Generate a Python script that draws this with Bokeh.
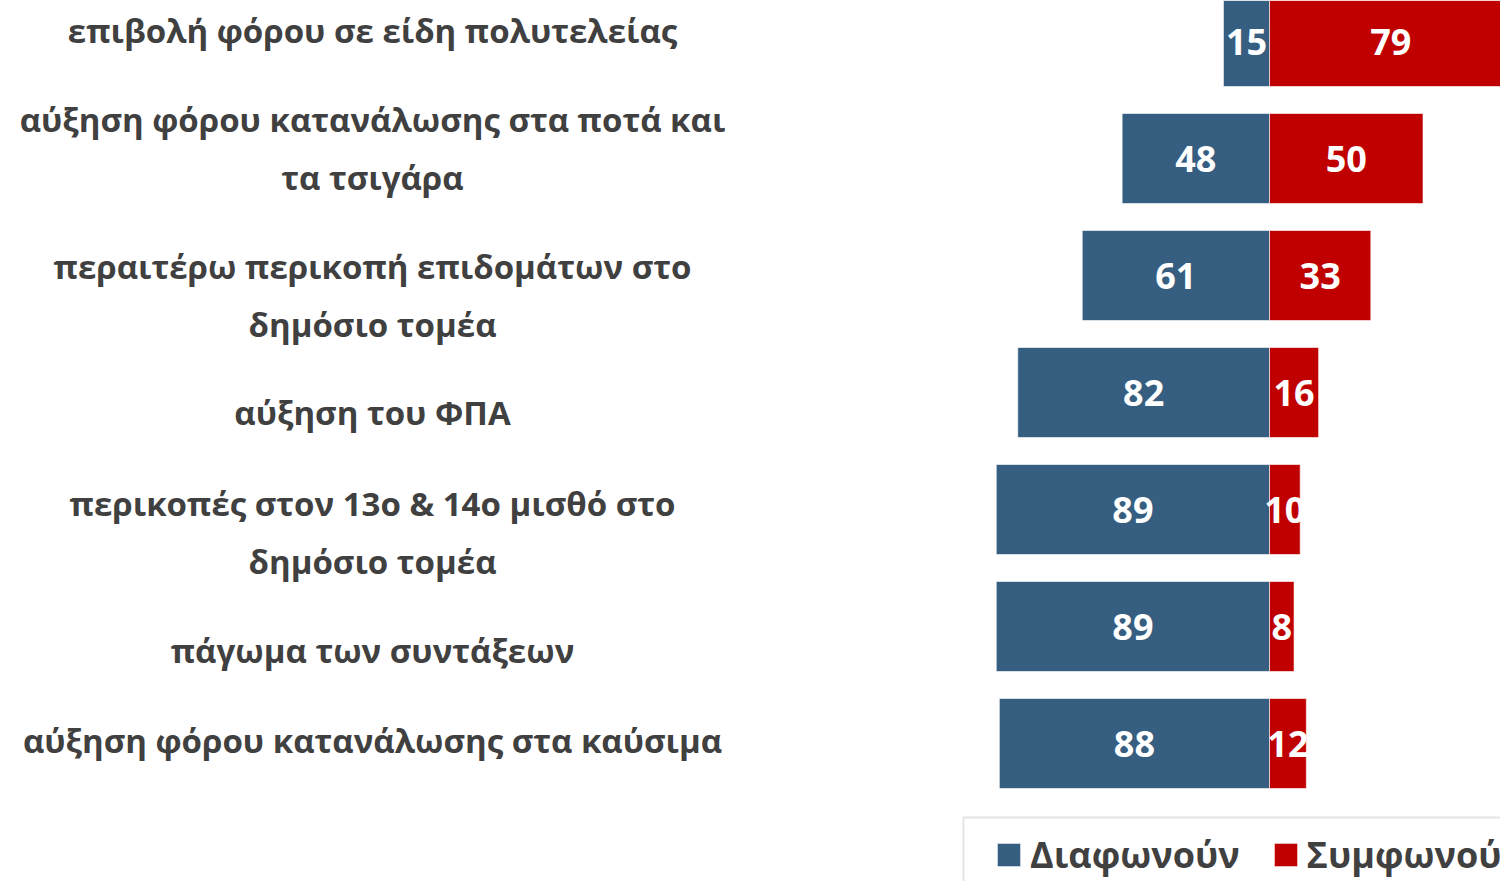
from bokeh.plotting import figure
from bokeh.models import Range1d, ColumnDataSource, Legend, LegendItem, BoxAnnotation
from bokeh.embed import file_html
from bokeh.resources import INLINE
from bokeh.core.properties import value

categories = [
    "επιβολή φόρου σε είδη πολυτελείας",
    "αύξηση φόρου κατανάλωσης στα ποτά και\nτα τσιγάρα",
    "περαιτέρω περικοπή επιδομάτων στο\nδημόσιο τομέα",
    "αύξηση του ΦΠΑ",
    "περικοπές στον 13ο & 14ο μισθό στο\nδημόσιο τομέα",
    "πάγωμα των συντάξεων",
    "αύξηση φόρου κατανάλωσης στα καύσιμα",
]
disagree = [15, 48, 61, 82, 89, 89, 88]
agree = [79, 50, 33, 16, 10, 8, 12]
series_names = ["Διαφωνούν", "Συμφωνούν"]

# layout / style
W, H = 1500, 881
PX_PER_UNIT = 3.07
ZERO_PX = 1269
ROW0_PX = 41
ROW_PX = 117
label_offsets = [-11, -10, 20, 20, 23, 24, -3]  # px, label centre vs bar centre
BLUE = "#365E81"
RED = "#C00000"
GREY = "#404040"
FONT = "Open Sans"

rows = list(range(len(categories)))
x_start = -ZERO_PX / PX_PER_UNIT
x_end = (W - ZERO_PX) / PX_PER_UNIT
y_top = -ROW0_PX / ROW_PX
y_bottom = (H - ROW0_PX) / ROW_PX


def px_x(px):
    return (px - ZERO_PX) / PX_PER_UNIT


def px_y(px):
    return (px - ROW0_PX) / ROW_PX


p = figure(width=W, height=H, output_backend="svg", toolbar_location=None,
           x_range=Range1d(x_start, x_end), y_range=Range1d(y_bottom, y_top),
           min_border=0, outline_line_color=None)
p.axis.visible = False
p.grid.visible = False
p.background_fill_color = "white"
p.border_fill_color = "white"

src = ColumnDataSource(dict(
    y=rows,
    neg=[-d for d in disagree],
    agree=agree,
    dmid=[-d / 2 for d in disagree],
    amid=[a / 2 for a in agree],
    dtxt=[str(d) for d in disagree],
    atxt=[str(a) for a in agree],
    cat=categories,
    ly=[r + o / ROW_PX for r, o in zip(rows, label_offsets)],
))

bh = 90 / ROW_PX
r_blue = p.hbar(y="y", left="neg", right=0, height=bh, source=src,
                fill_color=BLUE, line_color="white", line_alpha=0.6, line_width=1)
r_red = p.hbar(y="y", left=0, right="agree", height=bh, source=src,
               fill_color=RED, line_color="white", line_alpha=0.6, line_width=1)

for xcol, tcol in (("dmid", "dtxt"), ("amid", "atxt")):
    p.text(x=xcol, y="y", text=tcol, source=src, text_align="center",
           text_baseline="middle", text_color="white",
           text_font=value(FONT), text_font_style="bold", text_font_size="36px")

p.text(x=px_x(372), y="ly", text="cat", source=src, text_align="center",
       text_baseline="middle", text_color=GREY, text_font=value(FONT),
       text_font_style="bold", text_font_size="33px", text_line_height=1.27)

# legend frame
p.add_layout(BoxAnnotation(left=px_x(963), right=px_x(W + 40), top=px_y(817),
                           bottom=px_y(H + 40), fill_color=None,
                           line_color="#A6A6A6", line_width=2))

legend = Legend(items=[LegendItem(label=series_names[0], renderers=[r_blue]),
                       LegendItem(label=series_names[1], renderers=[r_red])],
                orientation="horizontal", location=(994, 2),
                border_line_color=None, background_fill_alpha=0,
                label_text_font=FONT, label_text_font_style="bold",
                label_text_font_size="36px", label_text_color=GREY,
                glyph_width=29, glyph_height=29, label_standoff=7,
                spacing=31, padding=11, margin=0)
p.add_layout(legend)

open("out.html", "w").write(file_html(p, INLINE))
